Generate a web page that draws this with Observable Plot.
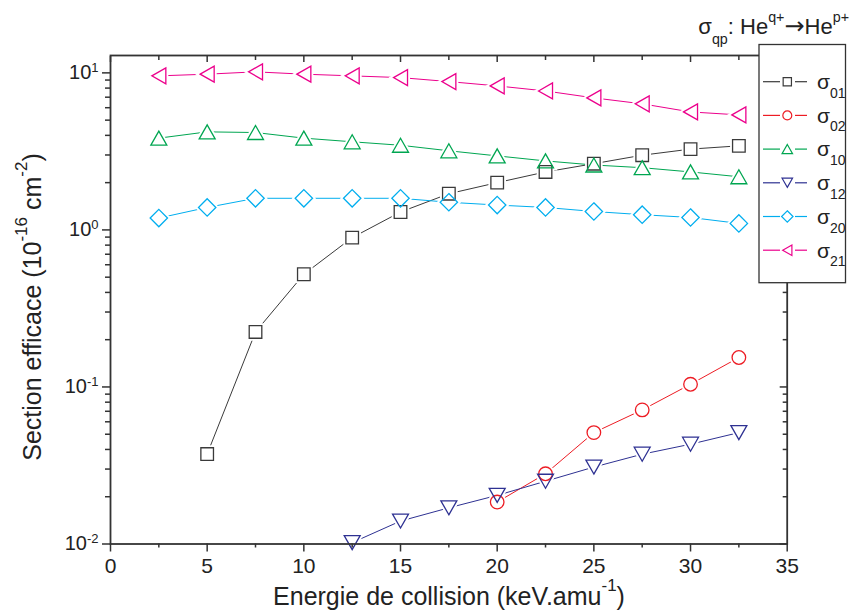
<!DOCTYPE html>
<html><head><meta charset="utf-8">
<script src="https://cdn.jsdelivr.net/npm/d3@7"></script>
<script src="https://cdn.jsdelivr.net/npm/@observablehq/plot@0.6"></script>
<style>
html,body{margin:0;padding:0;background:#fff;}
#chart{position:relative;width:853px;height:616px;}
</style></head><body><div id="chart"></div>
<script>
// ---- data ----
const energy  = [2.5, 5, 7.5, 10, 12.5, 15, 17.5, 20, 22.5, 25, 27.5, 30, 32.5];
const sigma01 = [null, 0.0374, 0.224, 0.522, 0.893, 1.30, 1.70, 2.00, 2.34, 2.64, 2.99, 3.27, 3.43];
const sigma02 = [null, null, null, null, null, null, null, 0.0185, 0.0280, 0.0512, 0.0714, 0.104, 0.154];
const sigma10 = [3.84, 4.21, 4.17, 3.84, 3.64, 3.46, 3.19, 2.96, 2.75, 2.59, 2.49, 2.34, 2.18];
const sigma12 = [null, null, null, null, 0.0102, 0.0140, 0.0170, 0.0204, 0.0251, 0.0309, 0.0373, 0.0432, 0.0512];
const sigma20 = [1.19, 1.39, 1.59, 1.59, 1.59, 1.59, 1.50, 1.44, 1.39, 1.31, 1.25, 1.20, 1.10];
const sigma21 = [9.57, 9.81, 10.15, 9.81, 9.57, 9.33, 8.80, 8.26, 7.67, 6.93, 6.35, 5.64, 5.40];

const seriesNames  = ["01", "02", "10", "12", "20", "21"];
const seriesValues = [sigma01, sigma02, sigma10, sigma12, sigma20, sigma21];
const seriesColors = ["#3a3a3a", "#ed1c24", "#00a651", "#2e3192", "#00aeef", "#ec008c"];
const seriesShapes = ["square", "circle", "up", "down", "diamond", "left"];

const xTicks      = [0, 5, 10, 15, 20, 25, 30, 35];
const xMinorTicks = [2.5, 7.5, 12.5, 17.5, 22.5, 27.5, 32.5];
const yTicks      = [0.01, 0.1, 1, 10];
const yTickLabels = ["10^-2", "10^-1", "10^0", "10^1"];
const yMinorTicks = [0.02,0.03,0.04,0.05,0.06,0.07,0.08,0.09,0.2,0.3,0.4,0.5,0.6,0.7,0.8,0.9,2,3,4,5,6,7,8,9];

// ---- custom marker shapes (scaled by r) ----
const rad = size => Math.sqrt(size / Math.PI);
const symbols = {
  square:  {draw(c, s){const h = rad(s)*0.9; c.moveTo(-h,-h); c.lineTo(h,-h); c.lineTo(h,h); c.lineTo(-h,h); c.closePath();}},
  circle:  {draw(c, s){const r = rad(s)*0.97; c.moveTo(r,0); c.arc(0,0,r,0,2*Math.PI);}},
  up:      {draw(c, s){const r = rad(s); c.moveTo(0,-r); c.lineTo(1.14*r,r); c.lineTo(-1.14*r,r); c.closePath();}},
  down:    {draw(c, s){const r = rad(s); c.moveTo(0,r); c.lineTo(1.14*r,-r); c.lineTo(-1.14*r,-r); c.closePath();}},
  left:    {draw(c, s){const r = rad(s); c.moveTo(-r,0); c.lineTo(r,-1.14*r); c.lineTo(r,1.14*r); c.closePath();}},
  diamond: {draw(c, s){const r = rad(s)*1.24; c.moveTo(0,-r); c.lineTo(r,0); c.lineTo(0,r); c.lineTo(-r,0); c.closePath();}}
};

const table = seriesNames.flatMap((name, i) =>
  energy.map((e, j) => ({series: name, energy: e, value: seriesValues[i][j]})).filter(d => d.value != null));

const FONT = "Liberation Sans, Arial, Helvetica, sans-serif";
const AX = "#333";

const lineMarks = [], haloMarks = [], dotMarks = [];
seriesNames.forEach((name, i) => {
  const d = table.filter(t => t.series === name);
  lineMarks.push(Plot.line(d, {x: "energy", y: "value", stroke: seriesColors[i], strokeWidth: 1}));
  haloMarks.push(Plot.dot(d, {x: "energy", y: "value", symbol: symbols[seriesShapes[i]], r: 7, fill: "white", stroke: "white", strokeWidth: 5}));
  dotMarks.push(Plot.dot(d, {x: "energy", y: "value", symbol: symbols[seriesShapes[i]], r: 7, fill: "none", stroke: seriesColors[i], strokeWidth: 1.3}));
});

const plot = Plot.plot({
  width: 853, height: 616,
  marginLeft: 110, marginRight: 66.3, marginTop: 55, marginBottom: 72.5,
  style: {fontFamily: FONT, background: "white", color: "#222"},
  x: {domain: [0, 35], label: null},
  y: {type: "log", domain: [0.01, 12.9], label: null},
  marks: [
    ...lineMarks, ...haloMarks, ...dotMarks,
    Plot.frame({stroke: AX, strokeWidth: 1.8}),
    Plot.axisX(xTicks, {anchor: "bottom", tickSize: 8, tickPadding: 6, fontSize: 21, strokeWidth: 1.5, color: AX, fill: "#222", label: null}),
    Plot.axisX(xMinorTicks, {anchor: "bottom", tickSize: 4, tickFormat: () => "", strokeWidth: 1.5, color: AX, label: null}),
    Plot.axisX(xTicks, {anchor: "top", tickSize: -6, tickFormat: () => "", strokeWidth: 1.5, color: AX, label: null}),
    Plot.axisX(xMinorTicks, {anchor: "top", tickSize: -4, tickFormat: () => "", strokeWidth: 1.5, color: AX, label: null}),
    Plot.axisY(yTicks, {anchor: "left", tickSize: 8, tickPadding: 4, fontSize: 20, strokeWidth: 1.5, color: AX, fill: "#222",
      tickFormat: v => yTickLabels[yTicks.indexOf(v)], label: null}),
    Plot.axisY(yMinorTicks, {anchor: "left", tickSize: 5, tickFormat: () => "", strokeWidth: 1.5, color: AX, label: null}),
    Plot.axisY(yTicks, {anchor: "right", tickSize: -8, tickFormat: () => "", strokeWidth: 1.5, color: AX, label: null}),
    Plot.axisY(yMinorTicks, {anchor: "right", tickSize: -5, tickFormat: () => "", strokeWidth: 1.5, color: AX, label: null})
  ]
});
document.getElementById("chart").appendChild(plot);

// ---- post-processing: superscripts, titles, legend ----
const svg = d3.select(plot);
svg.selectAll("text").each(function() {
  const s = this.textContent;
  if (s.includes("^")) {
    const [base, exp] = s.split("^");
    const t = d3.select(this);
    t.text(base);
    t.append("tspan").attr("dy", "-0.55em").attr("font-size", 13).text(exp);
  }
});

function richText(parent, parts, attrs, ratio = 0.65) {
  const t = parent.append("text").attr("font-family", FONT).attr("fill", "#222");
  for (const k in attrs) t.attr(k, attrs[k]);
  let shift = 0;
  const size = attrs["font-size"];
  parts.forEach(([str, kind, family, fs]) => {
    const ts = t.append("tspan").text(str);
    const target = kind === "sup" ? -0.55 : kind === "sub" ? 0.45 : 0;
    if (kind === "sup" || kind === "sub") ts.attr("font-size", size * ratio);
    if (family) ts.attr("font-family", family);
    if (fs) ts.attr("font-size", fs);
    const dyPx = (target - shift) * size;
    if (dyPx !== 0) ts.attr("dy", dyPx);
    shift = target;
  });
  return t;
}

// y axis title
richText(svg, [["Section efficace (10"], ["-16", "sup"], [" cm"], ["-2", "sup"], [")"]],
  {"font-size": 25, "text-anchor": "middle", transform: "translate(41,307) rotate(-90)"}, 0.68);
// x axis title
richText(svg, [["Energie de collision (keV.amu"], ["-1", "sup"], [")"]],
  {"font-size": 25, "text-anchor": "middle", x: 449, y: 605}, 0.68);
// top-right title
richText(svg, [["σ"], ["qp", "sub"], [": He"], ["q+", "sup"], ["→", null, "DejaVu Sans", 24], ["He"], ["p+", "sup"]],
  {"font-size": 22, "text-anchor": "end", x: 849, y: 34});

// legend box
const lg = svg.append("g");
lg.append("rect").attr("x", 759).attr("y", 44.5).attr("width", 86.5).attr("height", 238.2)
  .attr("fill", "white").attr("stroke", AX).attr("stroke-width", 1.3);
seriesNames.forEach((name, i) => {
  const cy = 81.7 + i * 33.7;
  const col = seriesColors[i];
  lg.append("line").attr("x1", 763).attr("x2", 780).attr("y1", cy).attr("y2", cy).attr("stroke", col).attr("stroke-width", 1.2);
  lg.append("line").attr("x1", 795).attr("x2", 807).attr("y1", cy).attr("y2", cy).attr("stroke", col).attr("stroke-width", 1.2);
  lg.append("path").attr("d", d3.symbol(symbols[seriesShapes[i]], Math.PI * 4.6 * 4.6)())
    .attr("transform", `translate(787.3,${cy})`).attr("fill", "none").attr("stroke", col).attr("stroke-width", 1.2);
  const t = lg.append("text").attr("x", 817).attr("y", cy + 7.3).attr("text-anchor", "start")
    .attr("font-family", FONT).attr("font-size", 21).attr("fill", "#222");
  t.append("tspan").text("σ");
  t.append("tspan").attr("dy", 8.7).attr("font-size", 14).text(name);
});
</script></body></html>
